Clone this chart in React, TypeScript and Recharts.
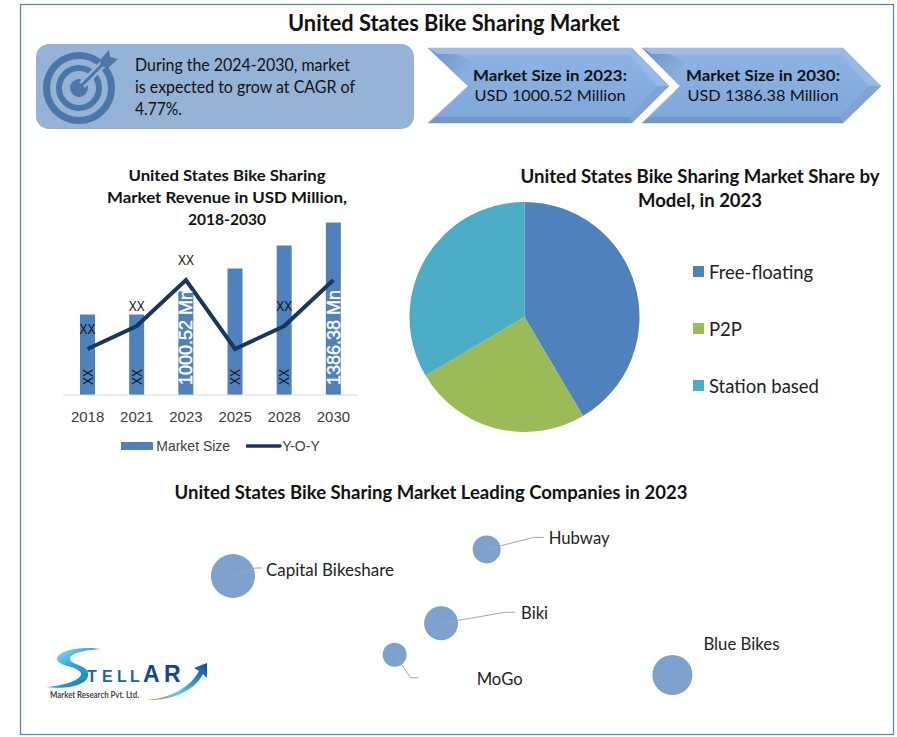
import {
  ComposedChart, Bar, Line, XAxis, YAxis, Legend, LabelList,
  PieChart, Pie, Cell,
  ScatterChart, Scatter, ZAxis,
} from 'recharts'

const years = ['2018', '2021', '2023', '2025', '2028', '2030']
const marketSize = [3.5, 3.5, 4.5, 5.5, 6.5, 7.5]
const yoy = [2, 3, 5, 2, 3, 5]
const barLabels = ['XX', 'XX', '1000.52 Mn', 'XX', 'XX', '1386.38 Mn']
const lineLabels = ['XX', 'XX', 'XX', '', 'XX', '']

const models = ['Free-floating', 'P2P', 'Station based']
const modelShare = [41.5, 25, 33.5]
const modelColors = ['#4F81BD', '#9BBB59', '#4BACC6']

const companies = ['Capital Bikeshare', 'Hubway', 'Biki', 'MoGo', 'Blue Bikes']
const companyX = [23.6, 53.1, 47.8, 42.4, 74.7]
const companyY = [70, 82.1, 48.5, 34.2, 25]
const companyZ = [484, 196, 289, 144, 400]

const revenueData = years.map((year, i) => ({
  year,
  marketSize: marketSize[i],
  yoy: yoy[i],
  barLabel: barLabels[i],
  lineLabel: lineLabels[i],
}))
const modelData = models.map((name, i) => ({ name, value: modelShare[i] }))
const companyData = companies.map((name, i) => ({
  name,
  x: companyX[i],
  y: companyY[i],
  z: companyZ[i],
}))

// leader line and label placement, relative to each bubble centre
const leaders: Record<string, { line: string; dx: number; dy: number; w: number }> = {
  'Capital Bikeshare': { line: '0,0 22,-8 29,-8', dx: 33, dy: 0, w: 128 },
  Hubway: { line: '0,0 47,-12 57,-12', dx: 62, dy: -5, w: 61 },
  Biki: { line: '0,0 64,-11 74,-11', dx: 80, dy: -4, w: 27 },
  MoGo: { line: '0,0 16,23 24,23', dx: 82, dy: 30, w: 46 },
  'Blue Bikes': { line: '', dx: 31, dy: -25, w: 76 },
}

const uiFont = 'Lato, "Open Sans", sans-serif'
const chartFont = '"Liberation Sans", Arial, sans-serif'

function T({ x, y, w, size, bold, anchor, fill, font, children }: any) {
  return (
    <text
      x={x}
      y={y}
      fontSize={size}
      fontWeight={bold ? 700 : 400}
      fontFamily={font || uiFont}
      textAnchor={anchor || 'start'}
      fill={fill || '#111'}
      textLength={w}
      lengthAdjust={w ? 'spacingAndGlyphs' : undefined}
    >
      {children}
    </text>
  )
}

function Chevron({ x0, x1, tip, notch }: { x0: number; x1: number; tip: number; notch: number }) {
  const top = 48
  const bot = 123
  const mid = 86
  return (
    <g>
      <polygon
        points={`${x0},${top} ${x1},${top} ${tip},${mid} ${x1},${bot} ${x0},${bot} ${notch},${mid}`}
        fill="url(#chevBody)"
        stroke="#BCD0EA"
        strokeWidth={1}
      />
      <polygon points={`${x0},${top} ${notch},${mid} ${notch + 3},${top + 13} ${x0 + 22},${top + 3}`} fill="url(#chevShade)" />
      <polygon points={`${x0},${top} ${x1},${top} ${x1 - 3},${top + 6} ${x0 + 10},${top + 6}`} fill="#9DBDE8" />
      <polygon points={`${x1},${top} ${tip},${mid} ${tip - 12},${mid} ${x1 - 3},${top + 6}`} fill="#97B9E6" />
      <polygon points={`${x1},${bot} ${tip},${mid} ${tip - 12},${mid} ${x1 - 3},${bot - 6}`} fill="#7EA3D4" />
      <polygon points={`${x0},${bot} ${x1},${bot} ${x1 - 3},${bot - 6} ${x0 + 8},${bot - 6}`} fill="#7397C9" />
    </g>
  )
}

function BarTag({ x, y, width, height, value }: any) {
  const big = String(value).length > 2
  const cx = x + width / 2
  const base = y + height - 10
  const shift = big ? 6.5 : 5
  return (
    <text
      transform={`translate(${cx + shift},${base}) rotate(-90)`}
      fontSize={big ? 18 : 14}
      fontFamily={chartFont}
      fill={big ? '#fff' : '#111'}
      stroke={big ? '#fff' : 'none'}
      strokeWidth={big ? 0.4 : 0}
      textLength={big ? undefined : 16}
      lengthAdjust="spacingAndGlyphs"
    >
      {value}
    </text>
  )
}

function LineTag({ x, y, value }: any) {
  if (!value) return null
  return (
    <text
      x={x}
      y={y - 15}
      fontSize={14}
      fontFamily={chartFont}
      fill="#111"
      textAnchor="middle"
      textLength={16}
      lengthAdjust="spacingAndGlyphs"
    >
      {value}
    </text>
  )
}

function RevenueLegend({ payload }: any) {
  return (
    <div style={{ display: 'flex', justifyContent: 'center', alignItems: 'center', height: 35, fontFamily: chartFont, fontSize: 14, color: '#404040', padding: '7px 0 0 20px', boxSizing: 'border-box' }}>
      {(payload || []).map((item: any) => (
        <span key={item.value} style={{ display: 'flex', alignItems: 'center', marginRight: item.type === 'rect' ? 16 : 0 }}>
          <svg width={item.type === 'rect' ? 35 : 36} height={10}>
            {item.type === 'rect' ? (
              <rect x={0} y={1} width={32} height={8} fill={item.color} />
            ) : (
              <line x1={1} x2={34} y1={5} y2={5} stroke={item.color} strokeWidth={3.5} strokeLinecap="round" />
            )}
          </svg>
          {item.value}
        </span>
      ))}
    </div>
  )
}

function ModelLegend() {
  return (
    <div style={{ fontFamily: uiFont, fontSize: 18.5, color: '#222' }}>
      {models.map((name, i) => (
        <div key={name} style={{ display: 'flex', alignItems: 'center', height: 57 }}>
          <span style={{ width: 11, height: 11, background: modelColors[i], marginRight: 5 }} />
          {name}
        </div>
      ))}
    </div>
  )
}

function CompanyTag({ x, y, width, height, value }: any) {
  const spot = leaders[value]
  const cx = x + width / 2
  const cy = y + height / 2
  return (
    <g transform={`translate(${cx},${cy})`}>
      {spot.line && <polyline points={spot.line} fill="none" stroke="#A6A6A6" strokeWidth={1} />}
      <text x={spot.dx} y={spot.dy} fontSize={16.5} fontFamily={uiFont} fill="#222" textLength={spot.w} lengthAdjust="spacingAndGlyphs">
        {value}
      </text>
    </g>
  )
}

function Logo() {
  return (
    <g>
      <path d="M101,649 C84,646 60,649 57,658 C55,666 78,666 81,673 C83,680 62,686 46,687 C70,690 90,684 88,673 C86,664 69,665 70,658 C72,652 88,650 101,649 Z" fill="url(#logoS)" />
      <text y={682} fontWeight={700} fontFamily={chartFont}>
        <tspan x="87 102 117 130" fontSize={16} fill="#1C62AC">TELL</tspan>
        <tspan x="143 164" fontSize={23} fill="#14459A">AR</tspan>
      </text>
      <path d="M147,700 C170,698 190,688 199,671 L194,668 L207,663 L207,678 L203,674 C194,691 172,701 147,700 Z" fill="url(#logoArrow)" />
      <T x={50} y={698} size={8.5} w={89} fill="#444" bold>Market Research Pvt. Ltd.</T>
    </g>
  )
}

export default function App() {
  return (
    <div style={{ position: 'absolute', left: 0, top: 0, width: 897, height: 737, background: '#fff', overflow: 'hidden' }}>
      <svg width={897} height={737} style={{ position: 'absolute', left: 0, top: 0 }}>
        <defs>
          <linearGradient id="chevBody" x1="0" y1="0" x2="0" y2="1">
            <stop offset="0" stopColor="#8FB4E6" />
            <stop offset="1" stopColor="#80A7D9" />
          </linearGradient>
          <linearGradient id="chevShade" x1="0" y1="0" x2="1" y2="0.6">
            <stop offset="0" stopColor="#6E90C2" />
            <stop offset="1" stopColor="#8AB0E2" />
          </linearGradient>
          <linearGradient id="logoS" x1="0" y1="0" x2="1" y2="1">
            <stop offset="0" stopColor="#BFE9F8" />
            <stop offset="0.45" stopColor="#29A9E0" />
            <stop offset="1" stopColor="#0D6FB8" />
          </linearGradient>
          <linearGradient id="logoArrow" x1="0" y1="1" x2="1" y2="0">
            <stop offset="0" stopColor="#F08A2C" />
            <stop offset="0.35" stopColor="#5CC8E8" />
            <stop offset="1" stopColor="#0B46A0" />
          </linearGradient>
        </defs>
        <rect x={20.5} y={4.5} width={873} height={730} fill="none" stroke="#4F81BD" strokeWidth={1.2} />
        <T x={454} y={31} size={22} bold anchor="middle" w={332}>United States Bike Sharing Market</T>

        <rect x={36} y={44} width={378} height={85} rx={13} fill="#95B3D7" />
        <circle cx={79} cy={88} r={32.5} fill="none" stroke="#4A76A8" strokeWidth={7} />
        <circle cx={79} cy={88} r={20} fill="none" stroke="#4A76A8" strokeWidth={6} />
        <circle cx={79} cy={88} r={9} fill="#4A76A8" />
        <line x1={82} y1={85} x2={106} y2={61} stroke="#95B3D7" strokeWidth={8} />
        <line x1={79} y1={88} x2={104} y2={63} stroke="#4A76A8" strokeWidth={3} />
        <polygon points="100,60 109,50 110,57 118,59 108,68 101,66" fill="#4A76A8" />
        <T x={135} y={71} size={17} w={215}>During the 2024-2030, market</T>
        <T x={135} y={93} size={17} w={220}>is expected to grow at CAGR of</T>
        <T x={135} y={115} size={17} w={47}>4.77%.</T>

        <Chevron x0={428} x1={632} tip={669} notch={468} />
        <Chevron x0={642} x1={843} tip={881} notch={680} />
        <T x={550} y={81} size={16} bold anchor="middle" w={154}>Market Size in 2023:</T>
        <T x={550} y={101} size={16} anchor="middle" w={151}>USD 1000.52 Million</T>
        <T x={763} y={81} size={16} bold anchor="middle" w={154}>Market Size in 2030:</T>
        <T x={763} y={101} size={16} anchor="middle" w={151}>USD 1386.38 Million</T>

        <T x={227} y={181} size={16} bold anchor="middle" w={197}>United States Bike Sharing</T>
        <T x={227} y={203} size={16} bold anchor="middle" w={240}>Market Revenue in USD Million,</T>
        <T x={227} y={225} size={16} bold anchor="middle" w={78}>2018-2030</T>

        <T x={700} y={183} size={18.5} bold anchor="middle" w={359}>United States Bike Sharing Market Share by</T>
        <T x={700} y={207} size={18.5} bold anchor="middle" w={124}>Model, in 2023</T>

        <T x={431} y={499} size={18.5} bold anchor="middle" w={513}>United States Bike Sharing Market Leading Companies in 2023</T>
        <Logo />
      </svg>

      <div style={{ position: 'absolute', left: 40, top: 200 }}>
        <ComposedChart width={340} height={260} data={revenueData} margin={{ top: 11, right: 22, bottom: 0, left: 23 }}>
          <XAxis
            dataKey="year"
            height={30}
            tickLine={false}
            axisLine={{ stroke: '#D9D9D9' }}
            tick={{ fill: '#404040', fontSize: 15, fontFamily: chartFont }}
            tickMargin={10}
            interval={0}
          />
          <YAxis hide domain={[0, 8]} />
          <Legend height={35} verticalAlign="bottom" content={<RevenueLegend />} />
          <Bar dataKey="marketSize" name="Market Size" fill="#4F81BD" barSize={15} legendType="rect" isAnimationActive={false}>
            <LabelList dataKey="barLabel" content={<BarTag />} />
          </Bar>
          <Line dataKey="yoy" name="Y-O-Y" type="linear" stroke="#17375E" strokeWidth={4} dot={false} legendType="line" isAnimationActive={false}>
            <LabelList dataKey="lineLabel" content={<LineTag />} />
          </Line>
        </ComposedChart>
      </div>

      <div style={{ position: 'absolute', left: 400, top: 200 }}>
        <PieChart width={490} height={235} margin={{ top: 0, right: 0, bottom: 0, left: 0 }}>
          <Pie
            data={modelData}
            dataKey="value"
            nameKey="name"
            cx={124.5}
            cy={117}
            outerRadius={115}
            startAngle={90}
            endAngle={-270}
            stroke="none"
            isAnimationActive={false}
          >
            {modelData.map((d, i) => (
              <Cell key={d.name} fill={modelColors[i]} />
            ))}
          </Pie>
          <Legend layout="vertical" content={<ModelLegend />} wrapperStyle={{ left: 293, top: 43, width: 190 }} />
        </PieChart>
      </div>

      <div style={{ position: 'absolute', left: 30, top: 510 }}>
        <ScatterChart width={860} height={220} margin={{ top: 0, right: 0, bottom: 0, left: 0 }}>
          <XAxis type="number" dataKey="x" domain={[0, 100]} hide />
          <YAxis type="number" dataKey="y" domain={[0, 100]} hide />
          <ZAxis type="number" dataKey="z" domain={[144, 484]} range={[452, 1520]} />
          <Scatter data={companyData} fill="#7DA2CE" isAnimationActive={false}>
            <LabelList dataKey="name" content={<CompanyTag />} />
          </Scatter>
        </ScatterChart>
      </div>
    </div>
  )
}
